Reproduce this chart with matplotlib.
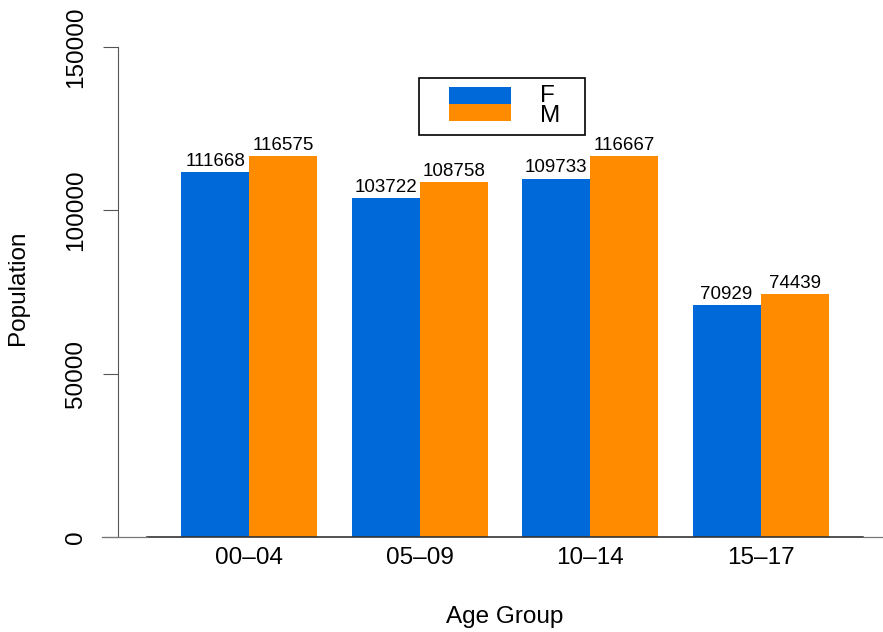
import matplotlib
matplotlib.use('Agg')
import numpy as np
import matplotlib.pyplot as plt
from matplotlib.patches import Rectangle
from matplotlib.lines import Line2D

# data
groups = ['00\u201304', '05\u201309', '10\u201314', '15\u201317']
pop_f = [111668, 103722, 109733, 70929]
pop_m = [116575, 108758, 116667, 74439]
ytick_vals = [0, 50000, 100000, 150000]
col_f = '#0069D9'
col_m = '#FF8C00'

plt.rcParams['font.family'] = ['Liberation Sans', 'DejaVu Sans']

W, H = 883, 632
fig = plt.figure(figsize=(W / 100, H / 100), dpi=100)
PX = 0.72  # points per pixel at dpi 100

def fx(px):
    return px / W

def fy(py):
    return 1 - py / H

# plot region in pixels: x 147..863, y 47..537
ax = fig.add_axes([fx(147), fy(537), fx(863) - fx(147), fy(47) - fy(537)])

x0 = np.arange(len(groups)) * 2.5 + 0.5
ax.bar(x0, pop_f, width=1.0, align='edge', color=col_f, linewidth=0)
ax.bar(x0 + 1.0, pop_m, width=1.0, align='edge', color=col_m, linewidth=0)

for xs, vals in ((x0 + 0.5, pop_f), (x0 + 1.5, pop_m)):
    for x, v in zip(xs, vals):
        ax.annotate(str(v), (x, v), xytext=(0, 1.5), textcoords='offset points',
                    ha='center', va='bottom', fontsize=13.5)

ax.set_xlim(0, 10.5)
ax.set_ylim(0, 150000)

ax.set_xticks(x0 + 1.0)
ax.set_xticklabels(groups)
ax.tick_params(axis='x', length=0, pad=7, labelsize=17.5)

ax.set_yticks(ytick_vals)
ax.set_yticklabels([str(v) for v in ytick_vals])
ax.tick_params(axis='y', length=15 * PX, width=0.8, color='#555555', pad=16 * PX,
               labelrotation=90, labelsize=17.5)

for s in ('top', 'right'):
    ax.spines[s].set_visible(False)
ax.spines['left'].set_position(('outward', 29 * PX))
ax.spines['left'].set_color('#555555')
ax.spines['left'].set_linewidth(0.8)
ax.spines['bottom'].set_color('#333333')
ax.spines['bottom'].set_linewidth(1.2)

# grey extensions of the baseline outside the plot region
fig.add_artist(Line2D([fx(102), fx(147)], [fy(537), fy(537)], color='#777777', lw=0.9))
fig.add_artist(Line2D([fx(863), fx(882)], [fy(537), fy(537)], color='#777777', lw=0.9))

fig.text(fx(18), fy(288), 'Population', rotation=90, ha='center', va='center', fontsize=17.5)
fig.text(fx(505), fy(617), 'Age Group', ha='center', va='center', fontsize=17.5)

# legend box
fig.add_artist(Rectangle((fx(419), fy(135)), fx(585) - fx(419), fy(78) - fy(135),
                         fill=False, edgecolor='black', lw=1.2))
fig.add_artist(Rectangle((fx(449), fy(104)), fx(511) - fx(449), fy(87) - fy(104),
                         facecolor=col_f, edgecolor='none'))
fig.add_artist(Rectangle((fx(449), fy(121)), fx(511) - fx(449), fy(104) - fy(121),
                         facecolor=col_m, edgecolor='none'))
fig.text(fx(540), fy(96), 'F', ha='left', va='center', fontsize=17.5)
fig.text(fx(540), fy(116), 'M', ha='left', va='center', fontsize=17.5)

fig.canvas.draw()
for t in ax.yaxis.get_major_ticks():
    t.label1.set_verticalalignment('center')
    t.label1.set_horizontalalignment('right')

fig.savefig('out.png', dpi=100)
